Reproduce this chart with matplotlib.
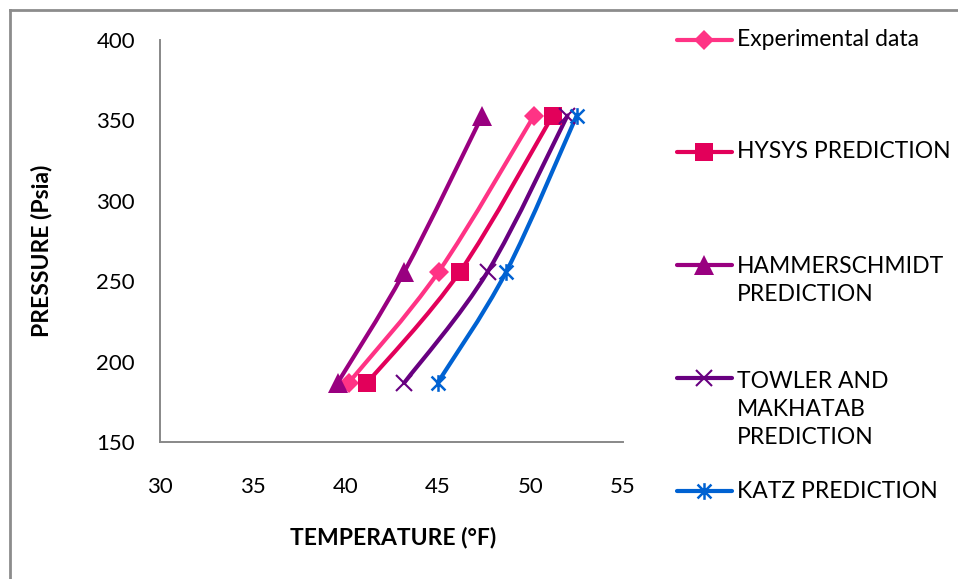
import numpy as np
import matplotlib.pyplot as plt
from matplotlib.path import Path
from matplotlib.patches import PathPatch
from matplotlib.lines import Line2D

plt.rcParams['font.family'] = ['Lato', 'DejaVu Sans']

# data
pressure = [187, 256, 353]
t_experimental = [40.2, 45.05, 50.2]
t_hysys = [41.2, 46.2, 51.2]
t_hammerschmidt = [39.6, 43.2, 47.4]
t_towler = [43.2, 47.7, 52.0]
t_katz = [45.0, 48.7, 52.5]

labels = ['Experimental data', 'HYSYS PREDICTION', 'HAMMERSCHMIDT\nPREDICTION',
          'TOWLER AND\nMAKHATAB\nPREDICTION', 'KATZ PREDICTION']
colors = ['#FF3385', '#E2005A', '#990080', '#680080', '#0062D2']

# excel "star" marker: an x with a vertical bar
star = Path([(-1, -1), (1, 1), (-1, 1), (1, -1), (0, -1.2), (0, 1.2)],
            [Path.MOVETO, Path.LINETO, Path.MOVETO, Path.LINETO, Path.MOVETO, Path.LINETO])
styles = [dict(marker='D', ms=10, mew=0),
          dict(marker='s', ms=13, mew=0),
          dict(marker='^', ms=14, mew=0),
          dict(marker='x', ms=12, mew=1.5),
          dict(marker=star, ms=12, mew=1.8)]


def smooth_path(x, y):
    # excel-like smoothed line (catmull-rom as cubic bezier)
    pts = np.column_stack([x, y]).astype(float)
    ext = np.vstack([pts[0], pts, pts[-1]])
    verts = [pts[0]]
    codes = [Path.MOVETO]
    for i in range(len(pts) - 1):
        p0, p1, p2, p3 = ext[i], ext[i + 1], ext[i + 2], ext[i + 3]
        verts += [p1 + (p2 - p0) / 6, p2 - (p3 - p1) / 6, p2]
        codes += [Path.CURVE4] * 3
    return Path(verts, codes)


W, H = 958, 579
fig = plt.figure(figsize=(W / 100, H / 100), dpi=100)
ax = fig.add_axes([160 / W, 1 - 442 / H, (623 - 160) / W, (442 - 40) / H])

series = [t_experimental, t_hysys, t_hammerschmidt, t_towler, t_katz]
for temps, c, st in zip(series, colors, styles):
    ax.add_patch(PathPatch(smooth_path(temps, pressure), fill=False, edgecolor=c, lw=3,
                           capstyle='round', joinstyle='round'))
    ax.plot(temps, pressure, ls='none', color=c, mec=c, mfc=c, **st)

ax.set_xlim(30, 55)
ax.set_ylim(150, 400)
ax.set_xticks(np.arange(30, 56, 5))
ax.set_yticks(np.arange(150, 401, 50))
ax.tick_params(length=0, labelsize=16, colors='black')
ax.tick_params(axis='x', pad=25)
ax.tick_params(axis='y', pad=18)
for s in ['top', 'right']:
    ax.spines[s].set_visible(False)
for s in ['left', 'bottom']:
    ax.spines[s].set_color('#888888')
    ax.spines[s].set_linewidth(1.4)

fig.text(42 / W, 1 - 251 / H, 'PRESSURE (Psia)', rotation=90, ha='center', va='center',
         fontsize=16.5, fontweight='bold')
fig.text(393 / W, 1 - 537 / H, 'TEMPERATURE (°F)', ha='center', va='center',
         fontsize=16.5, fontweight='bold')

# legend drawn by hand to match the excel layout
first_y = [40, 152, 265, 378, 491]
pitch = 31.7
for lab, c, st, y0 in zip(labels, colors, styles, first_y):
    yf = 1 - y0 / H
    fig.add_artist(Line2D([677 / W, 732 / W], [yf, yf], color=c, lw=3,
                          solid_capstyle='round', transform=fig.transFigure))
    fig.add_artist(Line2D([704 / W], [yf], ls='none', color=c, mec=c, mfc=c,
                          transform=fig.transFigure, **st))
    n = lab.count('\n')
    yc = 1 - (y0 + n * pitch / 2) / H
    fig.text(737 / W, yc, lab, ha='left', va='center', fontsize=16.5, linespacing=1.4)

# outer chart border
fig.add_artist(Line2D([10 / W, 10 / W], [-0.1, 1 - 10 / H], color='#8C8C8C', lw=2,
                      transform=fig.transFigure))
fig.add_artist(Line2D([10 / W, 1.1], [1 - 10 / H, 1 - 10 / H], color='#8C8C8C', lw=2,
                      transform=fig.transFigure))

fig.savefig('out.png', dpi=100)
